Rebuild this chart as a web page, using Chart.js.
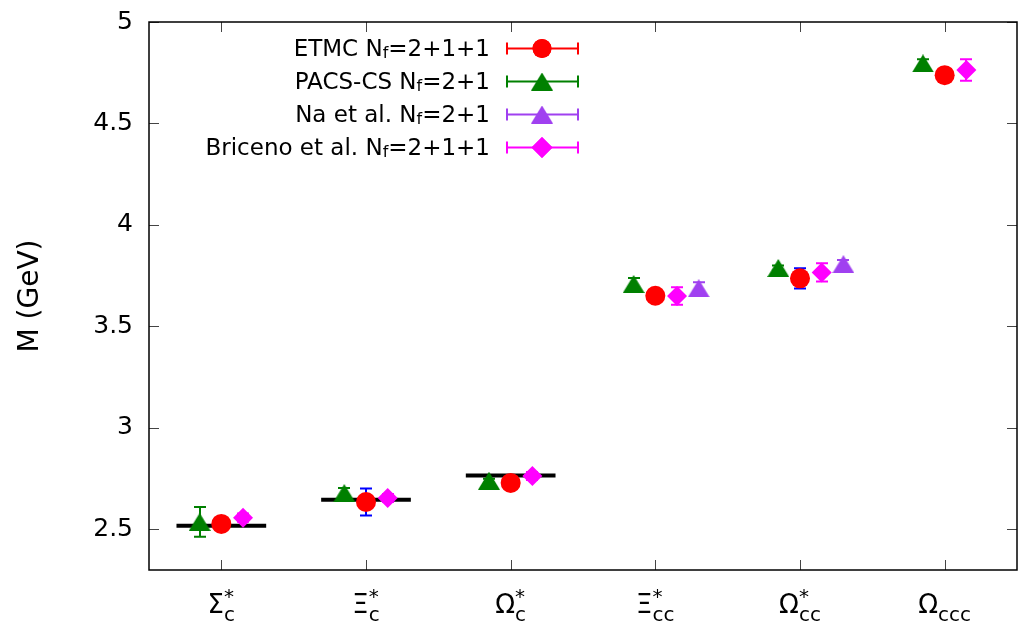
<!DOCTYPE html>
<html>
<head>
<meta charset="utf-8">
<title>Charmed baryon masses</title>
<script src="https://cdn.jsdelivr.net/npm/chart.js@4.4.1/dist/chart.umd.min.js"></script>
<style>
  html, body { margin: 0; padding: 0; background: #fff; }
  canvas { display: block; }
</style>
</head>
<body>
<canvas id="massChart" width="1028" height="622"></canvas>
<script>
// baryon labels: base letter, subscript, superscript
const labelBase = ['Σ', 'Ξ', 'Ω', 'Ξ', 'Ω', 'Ω'];
const labelSub = ['c', 'c', 'c', 'cc', 'cc', 'ccc'];
const labelSup = ['*', '*', '*', '*', '*', ''];

// masses in GeV (null = no result)
const etmcMass = [2.527, 2.635, 2.729, 3.651, 3.737, 4.738];
const etmcErr = [0.01, 0.066, 0.01, 0.01, 0.05, 0.01];
const pacsMass = [2.537, 2.679, 2.740, 3.709, 3.788, 4.796];
const pacsErr = [0.073, 0.025, 0.01, 0.03, 0.012, 0.02];
const naMass = [null, null, null, 3.688, 3.807, null];
const naErr = [null, null, null, 0.03, 0.02, null];
const bricenoMass = [2.558, 2.655, 2.763, 3.650, 3.766, 4.763];
const bricenoErr = [0.02, 0.02, 0.02, 0.043, 0.045, 0.053];
// experimental values (black bars)
const expMass = [2.5175, 2.6459, 2.7659, null, null, null];

const yTicks = [2.5, 3, 3.5, 4, 4.5, 5];

const legendNames = ['ETMC', 'PACS-CS', 'Na et al.', 'Briceno et al.'];
const legendFlavours = ['2+1+1', '2+1', '2+1', '2+1+1'];

const RED = '#ff0000', GREEN = '#008000', PURPLE = '#a040f0', MAGENTA = '#ff00ff', BLUE = '#0000ff';
const FONT = "'DejaVu Sans', sans-serif";

// triangle centred on its bounding box (gnuplot style)
function makeTriangle(color, w, h) {
  const c = document.createElement('canvas');
  c.width = w; c.height = h;
  const g = c.getContext('2d');
  g.fillStyle = color;
  g.beginPath();
  g.moveTo(w / 2, 0);
  g.lineTo(w, h);
  g.lineTo(0, h);
  g.closePath();
  g.fill();
  return c;
}
const greenTri = makeTriangle(GREEN, 22, 18);
const purpleTri = makeTriangle(PURPLE, 22, 18);

function toPoints(values, shift) {
  const pts = [];
  values.forEach((v, i) => { if (v != null) pts.push({x: i + 1 + shift, y: v}); });
  return pts;
}

function expSegments() {
  const pts = [];
  expMass.forEach((v, i) => {
    if (v == null) return;
    pts.push({x: i + 1 - 0.31, y: v}, {x: i + 1 + 0.31, y: v}, {x: i + 1.5, y: null});
  });
  return pts;
}

const series = [
  {values: etmcMass, errs: etmcErr, shift: 0, color: RED, errColor: BLUE},
  {values: pacsMass, errs: pacsErr, shift: -0.15, color: GREEN, errColor: GREEN},
  {values: naMass, errs: naErr, shift: 0.3, color: PURPLE, errColor: PURPLE},
  {values: bricenoMass, errs: bricenoErr, shift: 0.15, color: MAGENTA, errColor: MAGENTA}
];

// error bars, drawn under the markers
const errorBars = {
  id: 'errorBars',
  beforeDatasetsDraw(chart) {
    const {ctx, scales: {x, y}} = chart;
    ctx.save();
    ctx.lineWidth = 2;
    series.forEach(s => {
      ctx.strokeStyle = s.errColor;
      s.values.forEach((v, i) => {
        if (v == null || !s.errs[i]) return;
        const px = Math.round(x.getPixelForValue(i + 1 + s.shift));
        const y1 = y.getPixelForValue(v + s.errs[i]);
        const y2 = y.getPixelForValue(v - s.errs[i]);
        ctx.beginPath();
        ctx.moveTo(px, y1); ctx.lineTo(px, y2);
        ctx.moveTo(px - 6, y1); ctx.lineTo(px + 6, y1);
        ctx.moveTo(px - 6, y2); ctx.lineTo(px + 6, y2);
        ctx.stroke();
      });
    });
    ctx.restore();
  }
};

function drawSubText(ctx, parts, x, baseline) {
  let cx = x;
  parts.forEach(p => {
    ctx.font = p.size + 'px ' + FONT;
    ctx.fillText(p.t, cx, baseline + p.dy);
    cx += ctx.measureText(p.t).width;
  });
  return cx;
}

function partsWidth(ctx, parts) {
  let w = 0;
  parts.forEach(p => { ctx.font = p.size + 'px ' + FONT; w += ctx.measureText(p.t).width; });
  return w;
}

// frame, mirrored ticks, x labels, y title and legend
const decorations = {
  id: 'decorations',
  beforeDatasetsDraw(chart) {
    const {ctx, chartArea: a, scales: {x, y}} = chart;
    ctx.save();
    ctx.strokeStyle = '#444';
    ctx.lineWidth = 1;
    ctx.beginPath();
    yTicks.forEach(v => {
      const py = Math.round(y.getPixelForValue(v)) + 0.5;
      ctx.moveTo(a.left, py); ctx.lineTo(a.left + 10, py);
      ctx.moveTo(a.right, py); ctx.lineTo(a.right - 10, py);
    });
    labelBase.forEach((b, i) => {
      const px = Math.round(x.getPixelForValue(i + 1)) + 0.5;
      ctx.moveTo(px, a.bottom); ctx.lineTo(px, a.bottom - 10);
      ctx.moveTo(px, a.top); ctx.lineTo(px, a.top + 10);
    });
    ctx.stroke();
    ctx.restore();
  },
  afterDraw(chart) {
    const {ctx, chartArea: a, scales: {x, y}} = chart;
    ctx.save();
    ctx.strokeStyle = '#000';
    ctx.lineWidth = 1.5;
    ctx.strokeRect(a.left, a.top, a.right - a.left, a.bottom - a.top);

    // x category labels
    ctx.fillStyle = '#000';
    ctx.textBaseline = 'alphabetic';
    ctx.textAlign = 'left';
    labelBase.forEach((b, i) => {
      ctx.font = '26px ' + FONT;
      const wb = ctx.measureText(b).width;
      ctx.font = '20px ' + FONT;
      const ws = ctx.measureText(labelSub[i]).width;
      const wp = ctx.measureText(labelSup[i]).width;
      const total = wb + Math.max(ws, wp);
      const x0 = x.getPixelForValue(i + 1) - total / 2;
      const base = 613;
      ctx.font = '26px ' + FONT;
      ctx.fillText(b, x0, base);
      ctx.font = '20px ' + FONT;
      ctx.fillText(labelSub[i], x0 + wb, base + 8);
      if (labelSup[i]) ctx.fillText(labelSup[i], x0 + wb, base - 10);
    });

    // y title
    ctx.save();
    ctx.translate(31, (a.top + a.bottom) / 2);
    ctx.rotate(-Math.PI / 2);
    ctx.textAlign = 'center';
    ctx.textBaseline = 'middle';
    ctx.font = '28px ' + FONT;
    ctx.fillText('M (GeV)', 0, 0);
    ctx.restore();

    // legend
    const rowY = [48, 81, 114, 147];
    const markers = ['circle', greenTri, purpleTri, 'rectRot'];
    const colors = [RED, GREEN, PURPLE, MAGENTA];
    legendNames.forEach((name, i) => {
      const parts = [
        {t: name + ' N', size: 23, dy: 0},
        {t: 'f', size: 16, dy: 2},
        {t: '=' + legendFlavours[i], size: 23, dy: 0}
      ];
      const w = partsWidth(ctx, parts);
      ctx.fillStyle = '#000';
      drawSubText(ctx, parts, 490 - w, rowY[i] + 8);
      const ly = rowY[i] + 0.5;
      ctx.strokeStyle = colors[i];
      ctx.lineWidth = 2;
      ctx.beginPath();
      ctx.moveTo(507, ly); ctx.lineTo(578, ly);
      ctx.moveTo(507, ly - 6); ctx.lineTo(507, ly + 6);
      ctx.moveTo(578, ly - 6); ctx.lineTo(578, ly + 6);
      ctx.stroke();
      ctx.fillStyle = colors[i];
      Chart.helpers.drawPoint(ctx, {pointStyle: markers[i], radius: i === 0 ? 9.5 : 10.5, rotation: 0, borderWidth: 0}, 542, ly);
      if (typeof markers[i] === 'string') ctx.fill();
    });
    ctx.restore();
  }
};

new Chart(document.getElementById('massChart'), {
  type: 'scatter',
  data: {
    datasets: [
      {label: 'ETMC', data: toPoints(etmcMass, 0), pointStyle: 'circle', pointRadius: 10,
        backgroundColor: RED, borderColor: RED, borderWidth: 0, order: 1},
      {label: 'PACS-CS', data: toPoints(pacsMass, -0.15), pointStyle: greenTri, pointRadius: 11,
        backgroundColor: GREEN, borderColor: GREEN, borderWidth: 0, order: 1},
      {label: 'Na et al.', data: toPoints(naMass, 0.3), pointStyle: purpleTri, pointRadius: 11,
        backgroundColor: PURPLE, borderColor: PURPLE, borderWidth: 0, order: 1},
      {label: 'Briceno et al.', data: toPoints(bricenoMass, 0.15), pointStyle: 'rectRot', pointRadius: 10,
        backgroundColor: MAGENTA, borderColor: MAGENTA, borderWidth: 0, order: 1},
      {type: 'line', label: 'Experiment', data: expSegments(), borderColor: '#000', borderWidth: 4,
        pointRadius: 0, spanGaps: false, fill: false, order: 5}
    ]
  },
  options: {
    responsive: false,
    animation: false,
    events: [],
    layout: {padding: {top: 22, right: 8, left: 0, bottom: 0}},
    plugins: {
      legend: {display: false},
      tooltip: {enabled: false}
    },
    scales: {
      x: {
        type: 'linear', min: 0.5, max: 6.5,
        grid: {display: false}, border: {display: false},
        ticks: {display: false},
        afterFit(scale) { scale.height = 52; scale.paddingLeft = 0; scale.paddingRight = 0; }
      },
      y: {
        type: 'linear', min: 2.3, max: 5,
        grid: {display: false, drawTicks: false}, border: {display: false},
        afterBuildTicks(scale) { scale.ticks = yTicks.map(v => ({value: v})); },
        ticks: {
          color: '#000', padding: 16,
          font: {family: 'DejaVu Sans', size: 25},
          callback: v => String(v)
        },
        afterFit(scale) { scale.width = 149; scale.paddingTop = 0; scale.paddingBottom = 0; }
      }
    }
  },
  plugins: [errorBars, decorations]
});
</script>
</body>
</html>
